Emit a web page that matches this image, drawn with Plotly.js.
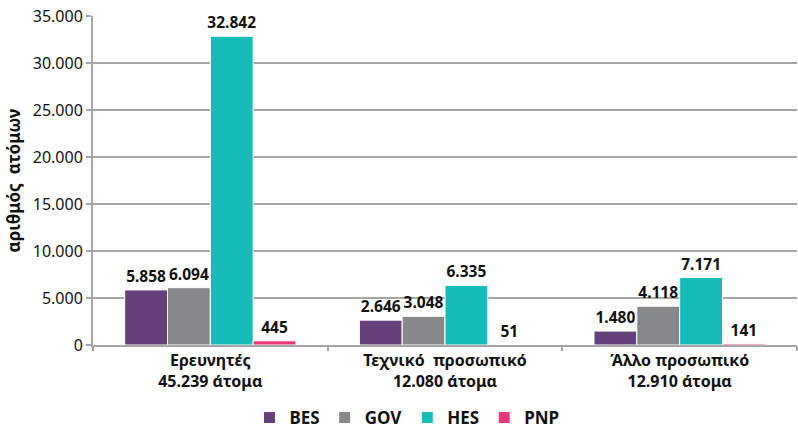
<!DOCTYPE html>
<html><head><meta charset="utf-8">
<script src="https://cdn.plot.ly/plotly-3.0.1.min.js"></script>
<style>html,body{margin:0;padding:0;background:#fff}#c{width:798px;height:436px}</style>
</head><body><div id="c"></div>
<script>
const categories = ["Ερευνητές<br>45.239 άτομα", "Τεχνικό  προσωπικό<br>12.080 άτομα", "Άλλο προσωπικό<br>12.910 άτομα"];
const seriesNames = ["BES", "GOV", "HES", "PNP"];
const BES = [5858, 2646, 1480];
const GOV = [6094, 3048, 4118];
const HES = [32842, 6335, 7171];
const PNP = [445, 51, 141];
const colors = ["#65407a", "#878889", "#17bcb8", "#e8387a"];
const values = [BES, GOV, HES, PNP];
const yTickVals = [0, 5000, 10000, 15000, 20000, 25000, 30000, 35000];

const font = "Noto Sans, DejaVu Sans, sans-serif";
const traces = seriesNames.map((n, i) => ({
  type: "bar", name: n, x: categories, y: values[i],
  marker: {color: colors[i], line: {color: "#ffffff", width: 1}},
  texttemplate: "%{y:,d}", textposition: "outside", cliponaxis: false, constraintext: "none",
  textfont: {family: font, size: 15.5, color: "#111", weight: "bold"},
  hoverinfo: "skip"
}));

const layout = {
  width: 798, height: 436,
  margin: {l: 93, r: 1, t: 16, b: 91},
  paper_bgcolor: "#fff", plot_bgcolor: "#fff",
  separators: ",.",
  barmode: "group", bargap: 0.27, bargroupgap: 0,
  showlegend: true,
  legend: {orientation: "h", x: 0.51, xref: "container", xanchor: "center", y: 0.0, yref: "container", yanchor: "bottom",
    font: {family: font, size: 17, color: "#111", weight: "bold"}, traceorder: "normal",
    itemwidth: 30, tracegroupgap: 0},
  xaxis: {type: "category", showline: true, linecolor: "#a6a6a6", linewidth: 2, automargin: false,
    ticks: "outside", tickson: "boundaries", ticklen: 4, tickcolor: "#a6a6a6", tickwidth: 2,
    tickfont: {family: font, size: 16, color: "#111", weight: "bold"}, showgrid: false},
  yaxis: {range: [0, 35000], tickvals: yTickVals, tickformat: ",d", showline: true, automargin: false,
    linecolor: "#a6a6a6", linewidth: 2, ticks: "outside", ticklen: 5, tickcolor: "#a6a6a6", tickwidth: 2,
    gridcolor: "#a6a6a6", gridwidth: 2, zeroline: false,
    tickfont: {family: font, size: 16, color: "#111"},
    title: {text: "αριθμός  ατόμων", standoff: 8, font: {family: font, size: 17, color: "#111", weight: "bold"}}}
};
Plotly.newPlot("c", traces, layout, {displayModeBar: false, staticPlot: true});
</script></body></html>
